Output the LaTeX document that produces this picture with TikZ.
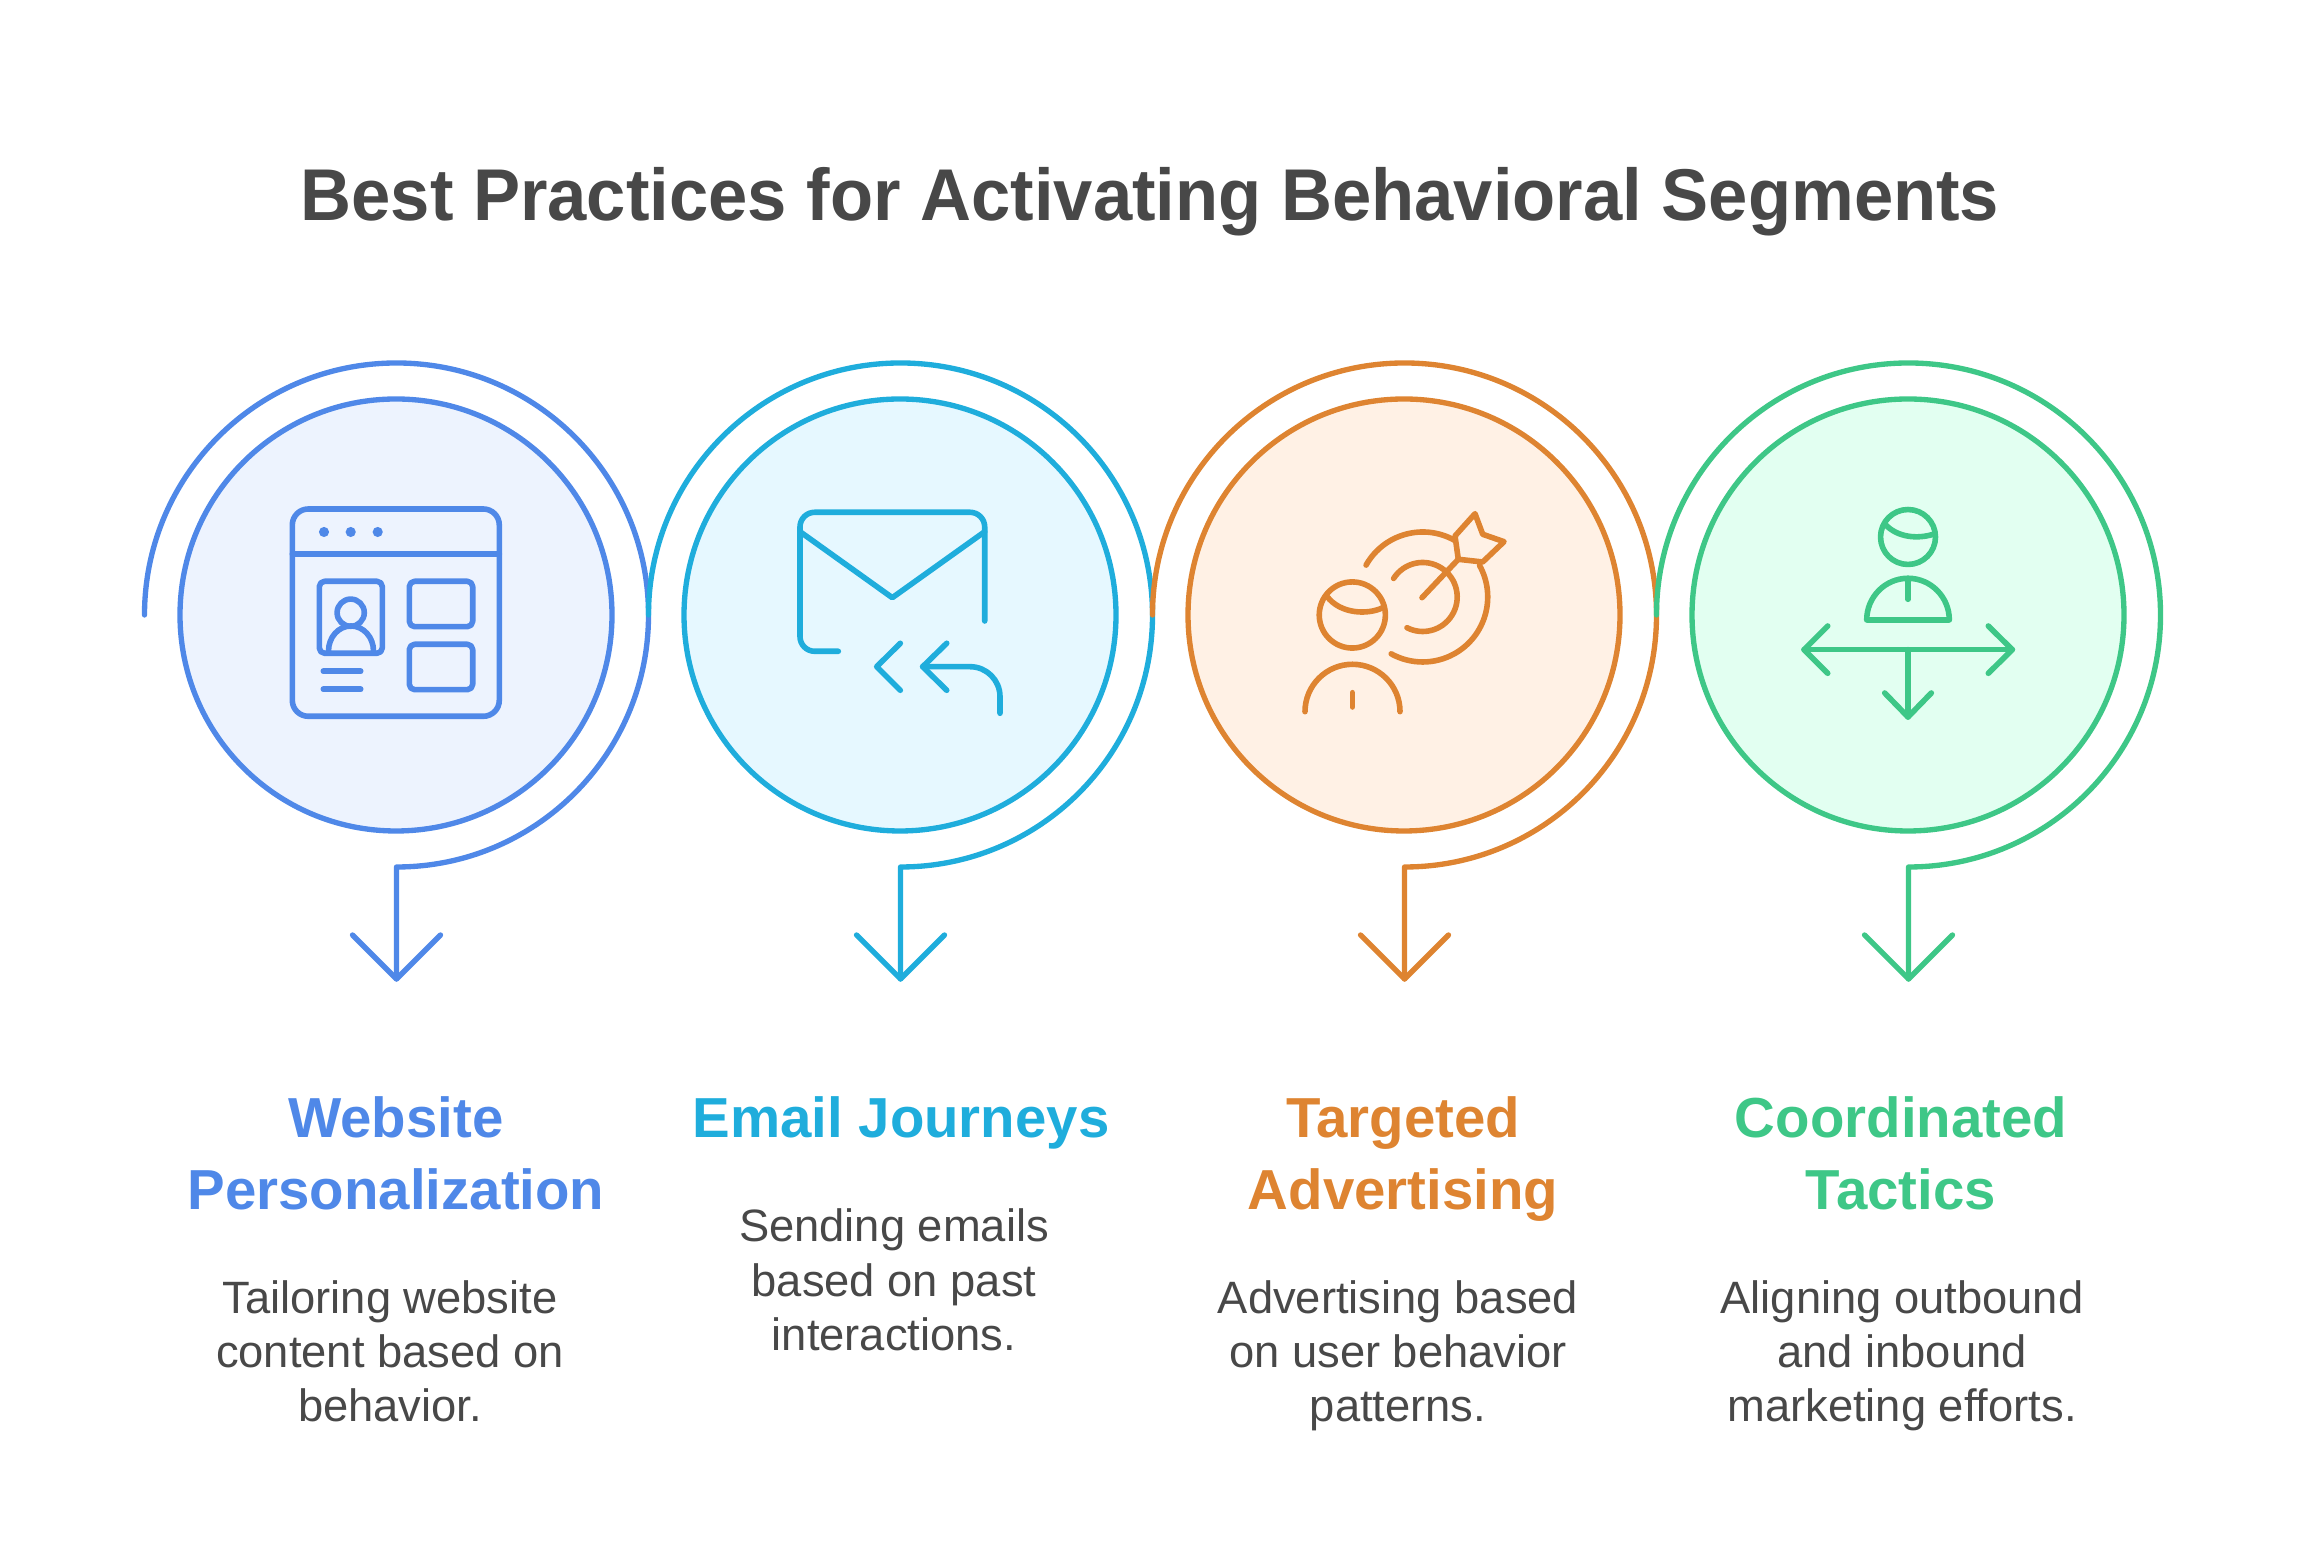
\documentclass[tikz,border=0pt]{standalone}
\usepackage{fontspec}
\setmainfont{Liberation Sans}
\newfontfamily\headlineface[FakeStretch=0.9626]{Liberation Sans}
\usetikzlibrary{positioning}
\usetikzlibrary{arrows}

\definecolor{stepBlue}{HTML}{4F88E8}
\definecolor{tintBlue}{HTML}{EDF3FE}
\definecolor{stepCyan}{HTML}{1FADDC}
\definecolor{tintCyan}{HTML}{E6F8FF}
\definecolor{stepOrange}{HTML}{DE8431}
\definecolor{tintOrange}{HTML}{FFF1E5}
\definecolor{stepGreen}{HTML}{3EC787}
\definecolor{tintGreen}{HTML}{E2FFF1}
\definecolor{inkGrey}{HTML}{484848}

\tikzset{
  spiral/.style={line width=4pt, line cap=round, line join=round},
  disc/.style={circle, line width=4pt, inner sep=0pt, minimum size=324pt},
  icon/.style={line width=4.2pt, line cap=round, line join=round},
  headline/.style={text=inkGrey, inner sep=0pt, font=\headlineface\fontsize{55}{70}\selectfont\bfseries},
  heading/.style={anchor=north, align=center, inner sep=0pt, font=\fontsize{42.3}{54}\selectfont\bfseries},
  blurb/.style={anchor=north, align=center, inner sep=0pt, text=inkGrey, font=\fontsize{34}{40.7}\selectfont}
}

\begin{document}
\begin{tikzpicture}[x=0.75pt, y=0.75pt]

    \useasboundingbox (0, 0) rectangle (2301, 1548);

    \newcommand{\drawSpiral}[4]{
      % #1 = centre (x axis)
      % #2 = line colour
      % #3 = fill colour
      % #4 = name
      \coordinate (#4Start) at ({#1 - 251.5}, 933);
      \draw [spiral, #2] (#4Start) arc [start angle=180, end angle=-90, radius=252] -- ++(0, -112) coordinate (#4Foot);
      \draw [spiral, #2] (#4Foot) ++(-44, 44) -- (#4Foot) -- ++(44, 44);
      \node [disc, draw=#2, fill=#3] (#4Disc) at (#1, 933) {};
    }

    \drawSpiral{396}{stepBlue}{tintBlue}{Website}
    \drawSpiral{900}{stepCyan}{tintCyan}{Email}
    \drawSpiral{1404}{stepOrange}{tintOrange}{Targeted}
    \drawSpiral{1908}{stepGreen}{tintGreen}{Coordinated}

    % browser window
    \begin{scope}[shift={(396, 932)}, icon, draw=stepBlue]
      \draw [rounded corners=12pt] (-103.7, -100.3) rectangle (103.3, 107);
      \draw (-103.7, 61.7) -- (103.3, 61.7);
      \foreach \x in {-72, -45.3, -18.3} {
        \fill [stepBlue] (\x, 84) circle (3.8pt);
      }
      \draw [rounded corners=4pt] (-76.7, -37.3) rectangle (-13.7, 34.7);
      \draw (-45.3, 3.3) circle (10.2pt);
      \draw (-67.5, -35) arc [start angle=180, end angle=0, x radius=22.5, y radius=25];
      \draw [rounded corners=4pt] (13.3, -10.7) rectangle (76.7, 34.7);
      \draw [rounded corners=4pt] (13.3, -73.7) rectangle (76.7, -28.3);
      \draw (-72.7, -55.3) -- (-35.3, -55.3);
      \draw (-72.7, -73.3) -- (-35.3, -73.3);
    \end{scope}

    % envelope with reply
    \begin{scope}[shift={(900, 932)}, icon, draw=stepCyan]
      \draw [rounded corners=11pt] (-61.7, -35.3) -- (-100, -35.3) -- (-100, 103.7) -- (84.7, 103.7) -- (84.7, -5);
      \draw (-100, 84.3) -- (-7.7, 18.3) -- (84.7, 84.3);
      \draw (0.3, -27.3) -- (-23.3, -50.7) -- (0.3, -74.3);
      \draw (46.7, -27.3) -- (22.7, -50.7) -- (46.7, -74.3);
      \draw (22.7, -50.7) -- (70, -50.7) arc [start angle=90, end angle=0, radius=30] -- (100, -97.3);
    \end{scope}

    % person with dart board
    \begin{scope}[shift={(1404, 932)}, icon, draw=stepOrange]
      \draw (-51.7, 1) circle (24.8pt);
      \draw (-77.3, 20) .. controls (-64, 1.7) and (-36, 1) .. (-21.3, 8.3);
      \draw (-99, -95.7) arc [start angle=180, end angle=0, x radius=47.5, y radius=47.4];
      \draw (-51.7, -76.7) -- (-51.7, -91);
      \draw (18.7, 19) ++(150.6:65) arc [start angle=150.6, end angle=61, radius=65];
      \draw (18.7, 19) ++(29:65) arc [start angle=29, end angle=-119, radius=65];
      \draw (18.7, 19) ++(147.5:34.5) arc [start angle=147.5, end angle=-117, radius=34.5];
      \draw (18, 18.3) -- (54.3, 56.7);
      \draw (54.3, 56.7) -- (51, 80) -- (71, 102.3) -- (78.7, 81.7) -- (100, 74.3) -- (78.7, 54) -- cycle;
    \end{scope}

    % person with three directions
    \begin{scope}[shift={(1908, 932)}, icon, draw=stepGreen]
      \draw (0, 79) circle (20.6pt);
      \draw (-23, 91.7) .. controls (-10, 78) and (10, 77) .. (25.3, 81.7);
      \draw (-41.3, -4) arc [start angle=180, end angle=0, x radius=41.3, y radius=41.7] -- cycle;
      \draw (0, 37.7) -- (0, 16.7);
      \draw (-104, -33.7) -- (104.3, -33.7);
      \draw (-80.3, -10) -- (-104, -33.7) -- (-80.3, -57.3);
      \draw (80.3, -10) -- (104.3, -33.7) -- (80.3, -57.3);
      \draw (0, -33.7) -- (0, -101);
      \draw (-23.3, -77) -- (0, -101) -- (23.3, -77);
    \end{scope}

    \node [headline, anchor=base] (Headline) at (1150, 1327) {Best Practices for Activating Behavioral Segments};

    \node [heading, text=stepBlue] (WebsiteHead) at (396, 461) {\strut Website\\Personalization};
    \node [heading, text=stepCyan] (EmailHead) at (901, 461) {\strut Email Journeys};
    \node [heading, text=stepOrange] (TargetedHead) at (1403, 461) {\strut Targeted\\Advertising};
    \node [heading, text=stepGreen] (CoordinatedHead) at (1901, 461) {\strut Coordinated\\Tactics};

    \node [blurb] (WebsiteText) at (390, 273) {\strut Tailoring website\\content based on\\behavior.};
    \node [blurb] (EmailText) at (894, 344.5) {\strut Sending emails\\based on past\\interactions.};
    \node [blurb] (TargetedText) at (1398, 273) {\strut Advertising based\\on user behavior\\patterns.};
    \node [blurb] (CoordinatedText) at (1902, 273) {\strut Aligning outbound\\and inbound\\marketing efforts.};

\end{tikzpicture}
\end{document}
